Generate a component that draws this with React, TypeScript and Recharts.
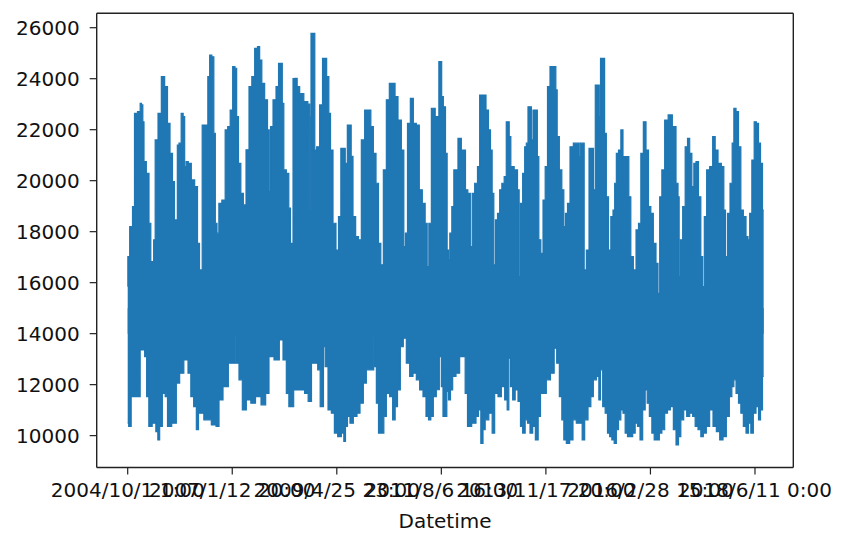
import React from 'react';
import { ComposedChart, Area, XAxis, YAxis, ReferenceLine } from 'recharts';

// hourly load, read off the plot as the outline of the dense line:
// [hour index, MW] along the top edge and along the bottom edge
const upperEnvelope: [number, number][] = [
  [0, 15850], [60, 17020], [700, 18200], [1140, 18980], [1460, 22640], [2290, 22710],
  [2480, 23030], [2800, 22970], [2990, 22310], [3250, 20750], [3880, 20290], [4270, 18330],
  [4580, 16830], [4900, 16830], [5030, 17680], [5480, 21600], [6120, 22640], [6750, 24080],
  [7390, 23690], [7840, 22250], [8350, 21070], [8790, 19960], [9110, 18460], [9370, 18460],
  [9620, 21400], [10010, 21470], [10450, 22640], [10770, 22510], [11030, 20550], [11340, 20750],
  [11850, 20680], [12490, 20030], [13130, 19770], [13580, 17540], [13900, 16500], [14090, 16500],
  [14410, 22180], [15170, 22180], [15490, 24080], [15870, 24930], [16320, 24860], [16640, 21860],
  [16890, 18330], [17280, 17940], [17600, 19110], [18420, 19240], [18870, 21990], [19380, 22120],
  [19830, 22770], [20330, 24470], [20720, 24410], [20970, 22510], [21420, 20680], [21870, 19500],
  [22380, 19050], [22890, 21210], [23520, 23690], [23970, 24080], [24610, 25190], [25050, 25260],
  [25440, 24730], [25880, 23820], [26520, 23170], [26970, 21990], [27160, 19570], [27480, 22120],
  [28120, 23170], [28630, 23690], [29080, 24600], [29450, 24600], [29700, 23030], [30030, 20420],
  [30660, 20290], [30980, 18920], [31300, 17540], [31550, 17540], [31700, 24000], [32260, 24010],
  [32580, 23690], [33220, 23420], [34170, 23100], [34750, 23000], [34870, 18850], [35000, 22500],
  [35130, 25780], [35700, 25780], [35890, 21200], [36400, 21330], [37040, 22970], [37500, 24800],
  [37800, 24800], [38320, 24080], [38640, 22640], [38960, 21200], [39590, 18330], [40100, 17280],
  [40550, 18590], [41000, 21270], [41400, 21270], [41830, 20680], [42200, 22180], [42600, 22180],
  [42910, 20950], [43290, 18590], [43930, 17810], [44380, 17680], [45010, 21600], [45650, 22770],
  [46290, 22770], [46740, 22120], [47250, 21070], [47760, 19900], [48200, 17540], [48650, 16700],
  [49160, 20420], [49800, 23170], [50300, 23820], [50900, 23820], [51390, 23300], [52030, 22380],
  [52670, 21200], [52980, 17410], [53300, 17940], [53750, 22250], [54390, 23230], [54900, 22250],
  [55530, 22180], [56040, 19640], [56680, 19110], [57130, 18330], [57450, 16630], [57770, 18330],
  [58410, 22840], [59240, 22510], [59810, 24670], [60000, 24670], [60130, 23300], [60640, 22900],
  [60950, 21070], [61270, 17280], [61460, 16890], [61780, 17940], [62230, 18980], [62550, 20420],
  [63060, 20420], [63300, 21660], [63700, 21660], [63950, 21200], [64460, 21200], [64780, 19640],
  [65350, 19500], [65740, 17410], [66060, 19500], [66690, 19900], [67140, 20550], [67520, 23360],
  [68290, 23360], [68800, 22770], [69240, 21990], [69560, 21200], [69880, 19500], [70200, 16700],
  [70520, 18460], [70970, 18720], [71350, 19640], [71800, 19900], [72240, 20160], [72600, 22310],
  [72900, 22310], [73070, 21730], [73520, 20550], [74350, 20420], [74790, 19640], [74980, 16240],
  [75300, 19110], [75810, 20290], [76070, 21330], [76450, 21470], [76700, 22900], [77100, 22900],
  [77340, 21600], [77730, 22770], [78240, 22770], [78490, 20940], [78810, 17680], [79260, 17150],
  [79640, 19240], [80090, 20550], [80530, 23690], [81040, 24470], [81810, 24470], [82000, 23560],
  [82320, 21730], [82830, 20420], [83270, 19640], [83590, 18200], [83910, 18720], [84360, 19110],
  [84870, 21330], [85630, 21470], [86200, 21470], [86460, 20940], [86700, 21470], [87100, 21470],
  [87550, 16500], [87930, 17280], [88570, 21270], [89000, 21270], [89200, 19640], [89700, 23750],
  [90100, 23750], [90300, 22500], [90600, 24800], [91100, 24800], [91370, 21860], [91760, 19370],
  [92200, 17280], [92650, 18590], [93030, 18850], [93290, 19900], [93670, 21070], [94120, 21200],
  [94560, 21990], [94940, 20940], [95710, 20940], [96030, 19370], [96470, 17020], [96990, 16500],
  [97500, 18070], [97940, 18330], [98390, 21070], [98900, 22310], [99410, 21200], [99850, 18980],
  [100300, 18720], [100810, 17540], [101320, 16760], [101580, 15580], [101960, 19370], [102410, 20420],
  [103040, 22380], [103740, 22580], [104640, 22120], [105150, 19900], [105400, 19370], [105590, 16240],
  [105910, 17680], [106420, 18980], [106870, 21330], [107320, 21660], [107700, 21070], [108150, 19770],
  [108460, 20680], [108970, 20750], [109420, 19370], [109860, 17020], [110120, 15850], [110500, 18590],
  [111010, 20420], [111650, 20550], [112160, 21730], [112610, 21200], [113250, 20680], [113880, 20550],
  [114200, 18850], [114520, 17020], [114970, 18720], [115480, 19900], [115800, 21470], [116120, 22840],
  [116630, 22710], [117070, 21330], [117520, 18850], [118030, 18590], [118540, 17810], [118790, 17680],
  [119180, 18720], [119620, 20810], [120070, 22310], [120450, 22250], [120900, 21470], [121220, 20680],
  [121660, 18850],
];

const lowerEnvelope: [number, number][] = [
  [0, 10490], [380, 10360], [950, 11530], [2290, 11530], [2480, 13360], [3120, 13360],
  [3370, 13100], [3880, 11530], [4200, 10360], [5160, 10490], [5610, 10160], [5920, 9830],
  [6310, 10360], [6950, 11660], [7390, 11530], [7840, 10360], [8990, 10490], [9620, 12060],
  [10260, 12450], [11220, 12970], [11850, 12450], [12300, 11530], [12940, 11140], [13320, 10230],
  [13770, 10880], [15360, 10620], [16640, 10420], [17150, 10360], [17790, 11400], [18680, 11920],
  [19830, 12840], [20590, 12840], [20780, 13900], [20970, 12840], [21610, 12190], [22250, 11010],
  [23140, 11400], [23970, 11270], [24930, 11530], [26080, 11210], [26710, 11660], [27350, 13100],
  [28630, 12970], [29390, 13750], [30030, 12970], [30660, 11660], [31000, 11140], [31500, 11140],
  [32000, 11790], [33500, 11790], [34170, 11660], [34870, 11340], [35450, 12840], [36100, 12840],
  [36600, 12580], [37040, 11140], [37350, 11140], [37550, 13490], [38000, 12710], [38640, 11010],
  [39280, 10880], [39800, 10100], [40550, 9960], [41190, 10100], [41500, 9770], [41830, 10360],
  [42260, 10750], [42780, 10490], [43550, 10750], [44180, 10880], [44700, 11270], [45460, 12060],
  [45850, 12580], [47000, 12580], [47120, 13900], [47380, 12710], [47760, 11270], [48200, 10100],
  [48840, 10100], [49160, 10750], [49800, 11660], [50430, 11530], [50940, 10620], [51390, 11140],
  [51840, 11790], [52470, 13490], [52980, 13820], [53620, 12840], [54260, 12320], [54900, 12450],
  [55530, 12190], [56170, 11790], [56810, 11530], [57320, 10750], [57770, 10620], [58210, 10750],
  [58720, 11530], [59360, 11800], [59870, 13100], [60130, 11920], [60500, 10750], [60950, 10750],
  [61150, 11730], [61590, 11400], [61910, 11790], [62420, 12320], [63190, 12450], [63820, 13100],
  [64330, 13100], [64780, 11660], [65230, 10360], [66380, 10490], [66880, 10750], [67330, 11010],
  [67780, 9700], [68160, 10230], [68610, 10620], [69560, 10880], [69880, 10100], [70520, 11660],
  [71160, 11530], [71800, 11920], [72430, 11400], [72750, 11010], [73070, 13040], [73390, 11920],
  [73900, 11400], [74350, 11790], [74980, 11340], [75300, 10360], [75810, 10100], [76260, 10620],
  [76700, 10490], [77220, 10100], [77730, 10360], [78240, 9830], [78810, 10750], [79130, 11660],
  [79770, 11660], [80400, 12190], [81360, 12450], [81810, 13430], [82320, 12840], [82830, 11530],
  [83270, 10620], [83590, 9830], [84230, 9700], [84870, 9830], [85500, 10620], [86140, 10490],
  [86780, 10490], [87100, 9830], [87740, 10620], [88380, 11140], [88820, 11530], [89330, 12190],
  [89970, 12320], [90290, 11400], [90610, 12580], [91120, 11140], [91560, 10880], [92010, 10100],
  [92390, 9960], [92840, 9830], [93290, 9700], [93670, 10230], [94120, 10620], [94560, 11010],
  [94940, 10880], [95390, 10100], [95840, 9960], [96350, 9960], [96860, 10100], [97300, 10490],
  [97750, 10360], [98260, 9830], [98770, 11010], [99220, 11790], [99540, 11270], [100050, 10750],
  [100490, 10100], [100940, 9830], [101450, 9830], [101960, 10100], [102410, 10230], [103040, 10880],
  [103490, 11010], [104130, 11140], [104640, 10230], [105150, 9640], [105590, 9960], [106040, 10620],
  [106680, 11010], [107190, 10750], [107830, 10880], [108330, 10750], [108780, 10360], [109420, 10230],
  [109860, 9960], [110370, 10100], [111010, 10360], [111650, 11010], [112290, 10360], [112930, 10160],
  [113570, 9830], [114200, 9960], [114840, 10750], [115350, 11530], [115800, 11920], [116120, 12190],
  [116630, 11660], [117070, 11270], [117520, 10880], [118030, 10360], [118540, 10100], [118980, 10490],
  [119430, 10100], [119940, 10880], [120450, 11140], [120900, 10620], [121220, 11010], [121660, 12320],
];

const tickHours = [0, 20000, 40000, 60000, 80000, 100000, 120000];
const tickLabels = [
  '2004/10/1 1:00',
  '2007/1/12 20:00',
  '2009/4/25 23:00',
  '2011/8/6 16:00',
  '2013/11/17 20:00',
  '2016/2/28 15:00',
  '2018/6/11 0:00',
];
const loadTicks = [10000, 12000, 14000, 16000, 18000, 20000, 22000, 24000, 26000];

const upperData = upperEnvelope.map(([hour, load]) => ({ hour, load }));
const lowerData = lowerEnvelope.map(([hour, load]) => ({ hour, load }));

const BLUE = '#1f77b4';
const INK = '#111';
const FRAME = '#222';
const xDomain: [number, number] = [-5930, 127330];
const yDomain: [number, number] = [8750, 26565];

export default function App() {
  return (
    <ComposedChart
      width={834}
      height={530}
      margin={{ top: 5.3, right: 48.7, left: 8.7, bottom: 8.5 }}
      style={{ fontFamily: '"DejaVu Sans", sans-serif' }}
    >
      <XAxis
        dataKey="hour"
        type="number"
        domain={xDomain}
        allowDataOverflow
        ticks={tickHours}
        interval={0}
        tickFormatter={(v: number) => tickLabels[tickHours.indexOf(v)] ?? ''}
        tickSize={7}
        tickMargin={8.5}
        height={62}
        axisLine={{ stroke: FRAME, strokeWidth: 1.4 }}
        tickLine={{ stroke: FRAME, strokeWidth: 1.2 }}
        tick={{ fill: INK, fontSize: 20 }}
        label={{ value: 'Datetime', position: 'insideBottom', offset: 1.5, fill: INK, fontSize: 20 }}
      />
      <YAxis
        type="number"
        domain={yDomain}
        allowDataOverflow
        ticks={loadTicks}
        interval={0}
        width={80}
        tickSize={7}
        tickMargin={10}
        axisLine={{ stroke: FRAME, strokeWidth: 1.4 }}
        tickLine={{ stroke: FRAME, strokeWidth: 1.2 }}
        tick={{ fill: INK, fontSize: 20 }}
      />
      <Area
        data={upperData}
        dataKey="load"
        type="step"
        baseValue={14000}
        fill={BLUE}
        fillOpacity={1}
        stroke={BLUE}
        strokeWidth={1.2}
        dot={false}
        activeDot={false}
        isAnimationActive={false}
      />
      <Area
        data={lowerData}
        dataKey="load"
        type="step"
        baseValue={15000}
        fill={BLUE}
        fillOpacity={1}
        stroke={BLUE}
        strokeWidth={1.2}
        dot={false}
        activeDot={false}
        isAnimationActive={false}
      />
      {/* top and right spines of the frame */}
      <ReferenceLine y={yDomain[1]} stroke={FRAME} strokeWidth={1.4} />
      <ReferenceLine x={xDomain[1]} stroke={FRAME} strokeWidth={1.4} />
    </ComposedChart>
  );
}
